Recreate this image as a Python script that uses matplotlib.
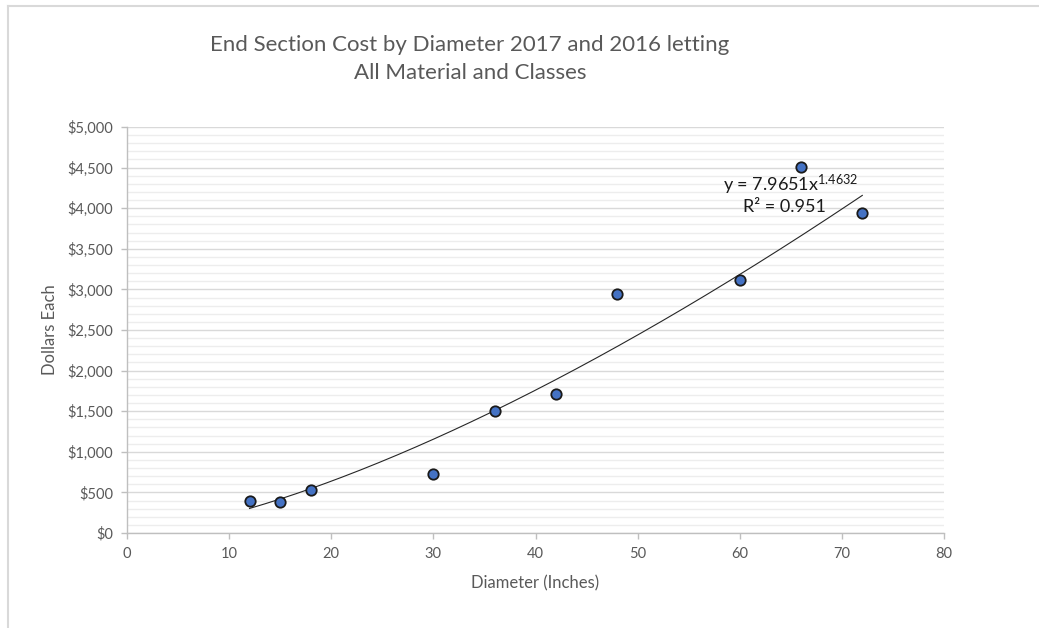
import numpy as np
import matplotlib
matplotlib.use("Agg")
import matplotlib.pyplot as plt
from matplotlib.ticker import MultipleLocator, FuncFormatter
from matplotlib.lines import Line2D

plt.rcParams['font.family'] = ['Lato', 'DejaVu Sans']
plt.rcParams['mathtext.default'] = 'regular'

# Data
diameters = [12, 15, 18, 30, 36, 42, 48, 60, 66, 72]
costs = [395, 385, 525, 725, 1500, 1715, 2940, 3115, 4505, 3935]
x_ticks = [0, 10, 20, 30, 40, 50, 60, 70, 80]
y_ticks = [0, 500, 1000, 1500, 2000, 2500, 3000, 3500, 4000, 4500, 5000]
trend_coef = 7.9651
trend_exp = 1.4632
r_squared = 0.951

title_line1 = "End Section Cost by Diameter 2017 and 2016 letting"
title_line2 = "All Material and Classes"
x_label = "Diameter (Inches)"
y_label = "Dollars Each"

fig = plt.figure(figsize=(10.39, 6.28), dpi=100)
ax = fig.add_axes([127/1039, 1-533/628, (944-127)/1039, (533-127)/628])

text_col = '#595959'
grid_major = '#D9D9D9'
grid_minor = '#EDEDED'
axis_col = '#BFBFBF'

ax.set_xlim(0, 80)
ax.set_ylim(0, 5000)
ax.set_xticks(x_ticks)
ax.set_yticks(y_ticks)
ax.yaxis.set_minor_locator(MultipleLocator(100))
ax.yaxis.set_major_formatter(FuncFormatter(lambda v, p: "${:,.0f}".format(v)))

ax.grid(which='major', axis='y', color=grid_major, linewidth=1.0, zorder=0)
ax.grid(which='minor', axis='y', color=grid_minor, linewidth=1.0, zorder=0)
ax.set_axisbelow(True)

for s in ['top', 'right']:
    ax.spines[s].set_visible(False)
for s in ['left', 'bottom']:
    ax.spines[s].set_color(axis_col)
    ax.spines[s].set_linewidth(1.0)

ax.tick_params(axis='both', which='major', colors=axis_col, labelcolor=text_col,
               labelsize=10.5, length=4, width=1.0)
ax.tick_params(axis='y', which='minor', length=0)
ax.tick_params(axis='y', pad=6)
ax.tick_params(axis='x', pad=6)

# Trendline
xt = np.linspace(min(diameters), max(diameters), 200)
ax.plot(xt, trend_coef * xt ** trend_exp, color='#262626', linewidth=0.8, zorder=2)

# Points
ax.scatter(diameters, costs, s=56, facecolor='#4472C4', edgecolor='#1a1a1a',
           linewidth=1.3, zorder=3)

# Equation
ax.text(65.0, 4281, 'y = 7.9651x$^{1.4632}$', fontsize=13, color='#1a1a1a',
        ha='center', va='center')
ax.text(64.4, 4011, 'R² = {:.3f}'.format(r_squared), fontsize=13, color='#1a1a1a',
        ha='center', va='center')

# Titles
fig.text(470/1039, 1-45/628, title_line1, fontsize=16, color=text_col,
         ha='center', va='center')
fig.text(470/1039, 1-73/628, title_line2, fontsize=16, color=text_col,
         ha='center', va='center')
fig.text(535/1039, 1-583/628, x_label, fontsize=12, color=text_col,
         ha='center', va='center')
fig.text(50/1039, 1-330/628, y_label, fontsize=12, color=text_col,
         ha='center', va='center', rotation=90)

# Chart area border (top and left visible)
fig.add_artist(Line2D([7.5/1039, 1.0], [1-5.5/628, 1-5.5/628], transform=fig.transFigure,
                      color='#D9D9D9', linewidth=1.5))
fig.add_artist(Line2D([7.5/1039, 7.5/1039], [0.0, 1-5.5/628], transform=fig.transFigure,
                      color='#D9D9D9', linewidth=1.5))

fig.savefig('out.png', dpi=100)
